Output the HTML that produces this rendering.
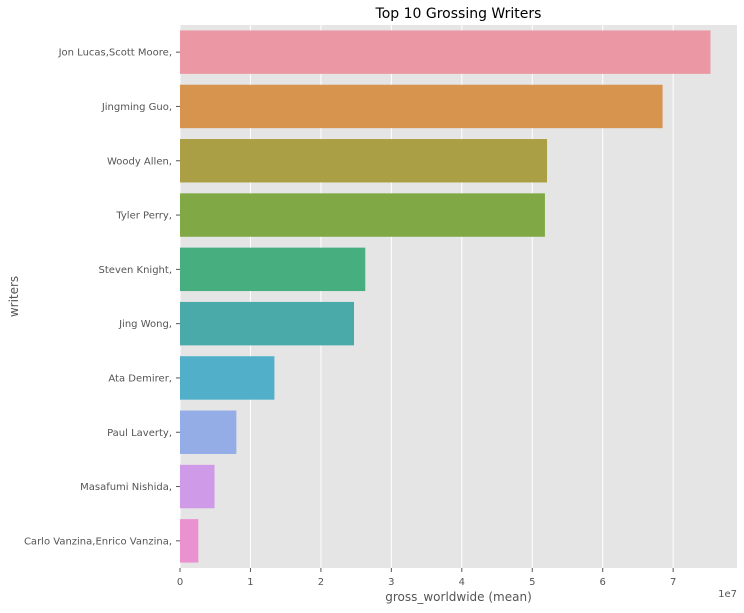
<!DOCTYPE html>
<html><head><meta charset="utf-8"><style>
body{margin:0;background:#fff;font-family:"DejaVu Sans",sans-serif}
svg text{font-family:"DejaVu Sans",sans-serif}
</style></head><body>
<svg id="c" width="744" height="609" xmlns="http://www.w3.org/2000/svg"></svg>
<script>
const categories=["Jon Lucas,Scott Moore,","Jingming Guo,","Woody Allen,","Tyler Perry,","Steven Knight,","Jing Wong,","Ata Demirer,","Paul Laverty,","Masafumi Nishida,","Carlo Vanzina,Enrico Vanzina,"];
const values=[7.53,6.85,5.21,5.18,2.63,2.47,1.34,0.80,0.49,0.26];
const xTicks=[0,1,2,3,4,5,6,7];
const colors=["#ec98a4","#d6944f","#ab9f45","#80a946","#47ae80","#4aaaaa","#51afc9","#94ade6","#cf9ae8","#e992cf"];
const L=180,R=737,T=25,B=568,pxU=70.45;
const xs=v=>L+v*pxU;
const band=(B-T)/categories.length;
const ys=i=>T+band*i;
const svg=document.getElementById('c');
const NS="http://www.w3.org/2000/svg";
function mk(t,a,txt){const e=document.createElementNS(NS,t);for(const k in a)e.setAttribute(k,a[k]);if(txt!=null)e.textContent=txt;svg.appendChild(e);return e;}
let e=mk('rect',{x:L,y:T,width:R-L,height:B-T,fill:'#e5e5e5'});


xTicks.forEach(t=>{
 let g=mk('line',{x1:xs(t),x2:xs(t),y1:T,y2:B,stroke:'#fff','stroke-width':1});
 
 
 let tk=mk('line',{x1:xs(t),x2:xs(t),y1:B,y2:B+4,stroke:'#555'});
 
 
 let lb=mk('text',{x:xs(t),y:B+17,'text-anchor':'middle','font-size':10,fill:'#555'},String(t));
 
 
});
categories.forEach((c,i)=>{
 const y0=ys(i)+band*0.1,h=band*0.8;
 let b=mk('rect',{x:xs(0),y:y0,width:xs(values[i])-xs(0),height:h,fill:colors[i]});
 
 
 const cy=ys(i)+band/2;
 let tk=mk('line',{x1:L-4,x2:L,y1:cy,y2:cy,stroke:'#555'});
 
 
 let lb=mk('text',{x:L-8,y:cy+3.5,'text-anchor':'end','font-size':10,fill:'#555'},c);
 
 
});
let t=mk('text',{x:(L+R)/2,y:18,'text-anchor':'middle','font-size':14,fill:'#000'},'Top 10 Grossing Writers');


let xt=mk('text',{x:(L+R)/2,y:601,'text-anchor':'middle','font-size':12,fill:'#555'},'gross_worldwide (mean)');


let ox=mk('text',{x:737,y:597,'text-anchor':'end','font-size':10,fill:'#555'},'1e7');


let yt=mk('text',{x:18,y:(T+B)/2,'text-anchor':'middle','font-size':12,fill:'#555',transform:`rotate(-90 18 ${(T+B)/2})`},'writers');


</script>
</body></html>
